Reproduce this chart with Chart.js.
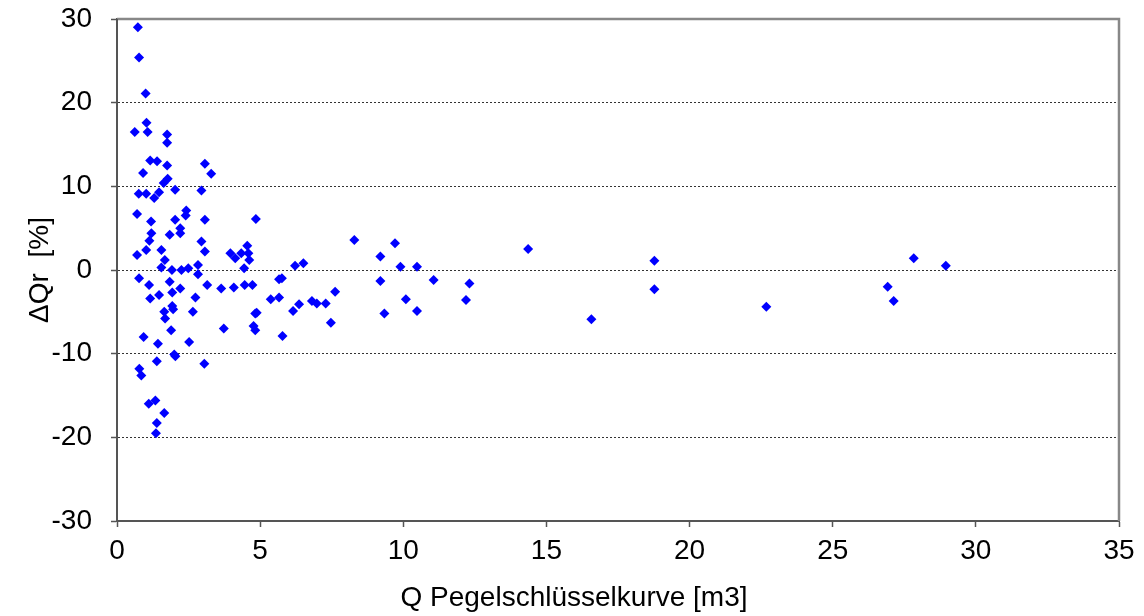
<!DOCTYPE html>
<html>
<head>
<meta charset="utf-8">
<script src="https://cdn.jsdelivr.net/npm/chart.js@4"></script>
<style>
html,body{margin:0;padding:0;background:#fff;}
#wrap{width:1144px;height:616px;}
</style>
</head>
<body>
<div id="wrap"><canvas id="chart"></canvas></div>
<script>
/* ---- data ---- */

// Q from Pegelschlüsselkurve [m3]
let qValues = [
0.73,0.77,1.0,1.03,0.62,1.07,1.75,1.75,1.16,1.40,
1.75,3.07,0.91,3.29,1.77,1.63,0.76,1.02,1.47,1.30,
2.03,2.95,0.70,2.42,2.40,1.19,2.03,3.07,1.20,2.21,
2.21,1.84,1.13,2.95,1.02,1.55,3.07,0.70,1.67,3.96,
4.13,4.34,4.55,1.55,1.92,2.25,2.49,2.83,2.83,0.77,
1.84,1.12,3.15,3.64,4.08,4.46,2.21,1.16,1.47,1.93,
2.74,1.93,1.96,1.65,1.68,2.65,1.89,3.73,0.93,1.43,
2.52,2.00,2.04,1.39,3.05,0.78,0.85,1.11,1.34,1.65,
1.39,1.36,4.85,4.59,4.62,4.44,4.73,5.66,5.76,6.22,
6.51,8.29,9.20,9.20,5.37,5.66,6.81,6.98,7.29,7.62,
6.36,6.15,4.83,4.88,4.77,4.83,7.47,5.78,9.71,9.90,
10.48,11.06,12.31,10.09,12.19,9.34,10.48,14.36,18.77,18.77,
16.57,27.83,28.95,26.92,27.13,22.68
];

// ΔQr [%]
let dqValues = [
29.0,25.4,21.1,17.6,16.5,16.5,16.2,15.2,13.1,13.0,
12.5,12.7,11.6,11.5,10.9,10.4,9.1,9.1,9.3,8.6,
9.6,9.5,6.7,7.1,6.5,5.8,6.0,6.0,4.4,5.0,
4.4,4.2,3.5,3.4,2.4,2.4,2.2,1.8,1.2,2.0,
1.4,2.0,2.9,0.3,0.0,0.0,0.2,0.6,-0.5,-1.0,
-1.4,-1.8,-1.8,-2.2,-2.1,-1.8,-2.2,-3.4,-3.0,-2.7,
-3.3,-4.3,-4.7,-5.0,-5.8,-5.0,-7.2,-7.0,-8.0,-8.8,
-8.6,-10.1,-10.3,-10.9,-11.2,-11.8,-12.6,-16.0,-15.6,-17.1,
-18.3,-19.5,6.1,2.0,1.2,0.2,-1.8,-1.1,-1.0,0.5,
0.8,3.6,1.6,-1.3,-3.5,-3.3,-3.7,-4.0,-4.0,-2.6,
-4.1,-4.9,-5.2,-5.1,-6.7,-7.2,-6.3,-7.9,3.2,0.4,
0.4,-1.2,-1.6,-3.5,-3.6,-5.2,-4.9,2.5,1.1,-2.3,
-5.9,1.4,0.5,-2.0,-3.7,-4.4
];

let xTicks = [0,5,10,15,20,25,30,35];
let yTicks = [-30,-20,-10,0,10,20,30];

let xTitle = "Q Pegelschlüsselkurve [m3]";
let yTitle = "ΔQr  [%]";


/* ---- build points ---- */

let points = qValues.map((q,i)=>({x:q,y:dqValues[i]}));

let font = {family:"'Liberation Sans', Arial, sans-serif", size:28, lineHeight:1.2};


/* ---- plot frame + x title (centred on the page, as in the original) ---- */

let frame = {
id:"frame",
afterDraw(chart){
let a = chart.chartArea;
let c = chart.ctx;
c.save();
c.setLineDash([]);
c.strokeStyle = "#888888";
c.lineWidth = 2.5;
c.beginPath();
c.moveTo(a.left, a.top);
c.lineTo(a.right, a.top);
c.lineTo(a.right, a.bottom);
c.stroke();
c.strokeStyle = "#555555";
c.lineWidth = 2;
c.beginPath();
c.moveTo(a.left, a.top);
c.lineTo(a.left, a.bottom);
c.stroke();

c.fillStyle = "#000";
c.font = font.size + "px " + font.family;
c.textAlign = "center";
c.textBaseline = "middle";
c.fillText(xTitle, 574, 598);
c.restore();
}
};


/* ---- chart ---- */

new Chart(document.getElementById("chart"),{

type:"scatter",

data:{
datasets:[{
data:points,
pointStyle:"rectRot",
pointRadius:5,
pointHoverRadius:5,
backgroundColor:"#0000ff",
borderColor:"#0000ff",
borderWidth:0
}]
},

options:{
responsive:true,
maintainAspectRatio:false,
animation:false,
layout:{padding:{top:19,right:25,left:0,bottom:0}},
plugins:{legend:{display:false},tooltip:{enabled:false}},
scales:{
x:{
type:"linear",
min:xTicks[0],
max:xTicks[xTicks.length-1],
afterBuildTicks(s){ s.ticks = xTicks.map(v=>({value:v})); },
afterFit(s){ s.height = 95; s.paddingLeft = 0; s.paddingRight = 0; },
ticks:{color:"#000",font:font,padding:7,maxRotation:0},
grid:{drawOnChartArea:false,tickLength:6,tickColor:"#555",tickWidth:1.5},
border:{color:"#555",width:2}
},
y:{
type:"linear",
min:yTicks[0],
max:yTicks[yTicks.length-1],
afterBuildTicks(s){ s.ticks = yTicks.map(v=>({value:v})); },
afterFit(s){ s.width = 117; s.paddingTop = 0; s.paddingBottom = 0; },
ticks:{color:"#000",font:font,padding:19},
grid:{
color:(ctx)=> (ctx.tick && Math.abs(ctx.tick.value)===30) ? "rgba(0,0,0,0)" : "#333",
lineWidth:1,
tickLength:6,
tickColor:"#555",
tickWidth:1.5,
tickBorderDash:[]
},
border:{color:"#555",width:2,dash:[2,2]},
title:{display:true,text:yTitle,color:"#000",font:font,padding:{top:23,bottom:0}}
}
}
},

plugins:[frame]

});
</script>
</body>
</html>
